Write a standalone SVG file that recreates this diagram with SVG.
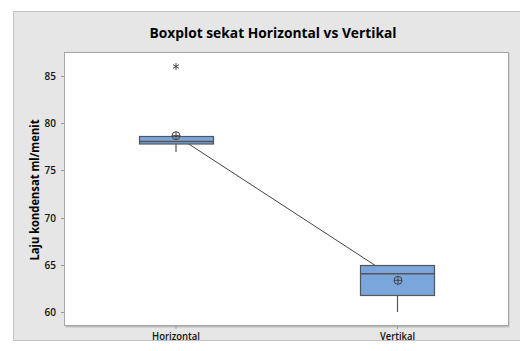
<svg xmlns="http://www.w3.org/2000/svg" width="520" height="351" viewBox="0 0 520 351">
  <style>
    .title { font-family: "Open Sans", "DejaVu Sans", sans-serif; font-weight: bold; font-size: 15px; fill: #000; }
    .axislab { font-family: "Open Sans", "DejaVu Sans", sans-serif; font-weight: bold; font-size: 12px; fill: #000; }
    .tick { font-family: "Open Sans", "DejaVu Sans", sans-serif; font-weight: 600; font-size: 10px; fill: #111; }
    .tk { stroke: #999; stroke-width: 1; }
    .box { fill: #7aa6dc; stroke: #555; stroke-width: 1.2; }
    .med { stroke: #555; stroke-width: 1.5; }
    .whisk { stroke: #555; stroke-width: 1.2; }
    .mean { fill: none; stroke: #444; stroke-width: 1; }
    .link { stroke: #444; stroke-width: 1; fill: none; }
    .outl { stroke: #444; stroke-width: 1; }
  </style>
  <defs>
    <g id="meanSym">
      <circle r="4" class="mean"/>
      <line x1="-4" y1="0" x2="4" y2="0" class="mean"/>
      <line x1="0" y1="-4" x2="0" y2="4" class="mean"/>
    </g>
    <!-- outlier marker -->
    <g id="star">
      <line class="outl" x1="0" y1="-3.5" x2="0" y2="3.5"/>
      <line class="outl" x1="-3" y1="-1.8" x2="3" y2="1.8"/>
      <line class="outl" x1="-3" y1="1.8" x2="3" y2="-1.8"/>
    </g>
  </defs>

  <rect width="520" height="351" fill="#fff"/>
  <!-- outer panel -->
  <rect x="13.5" y="11.5" width="508" height="329" fill="#e6e6e6" stroke="#c4c4c4" stroke-width="1"/>
  <!-- data region with shadow -->
  <rect x="65.5" y="53.5" width="444" height="274" fill="#bdbdbd"/>
  <rect x="64.5" y="52.5" width="444" height="273" fill="#fff" stroke="#a6a6a6" stroke-width="1"/>

  <text class="title" x="273" y="38" text-anchor="middle" textLength="247" lengthAdjust="spacingAndGlyphs">Boxplot sekat Horizontal vs Vertikal</text>

  <!-- y axis -->
  <g id="yaxis">
    <text class="axislab" transform="translate(39,190) rotate(-90)" text-anchor="middle" textLength="141" lengthAdjust="spacingAndGlyphs">Laju kondensat ml/menit</text>
    <line class="tk" x1="61" y1="76.5" x2="64" y2="76.5"/>
    <line class="tk" x1="61" y1="123.5" x2="64" y2="123.5"/>
    <line class="tk" x1="61" y1="170.5" x2="64" y2="170.5"/>
    <line class="tk" x1="61" y1="218.5" x2="64" y2="218.5"/>
    <line class="tk" x1="61" y1="265.5" x2="64" y2="265.5"/>
    <line class="tk" x1="61" y1="312.5" x2="64" y2="312.5"/>
    <text class="tick" x="56" y="80" text-anchor="end">85</text>
    <text class="tick" x="56" y="127" text-anchor="end">80</text>
    <text class="tick" x="56" y="174" text-anchor="end">75</text>
    <text class="tick" x="56" y="222" text-anchor="end">70</text>
    <text class="tick" x="56" y="269" text-anchor="end">65</text>
    <text class="tick" x="56" y="316" text-anchor="end">60</text>
  </g>

  <!-- x axis -->
  <g id="xaxis">
    <line class="tk" x1="176" y1="326" x2="176" y2="329"/>
    <line class="tk" x1="397.5" y1="326" x2="397.5" y2="329"/>
    <text class="tick" x="176" y="340" text-anchor="middle" textLength="48" lengthAdjust="spacingAndGlyphs">Horizontal</text>
    <text class="tick" x="397.5" y="340" text-anchor="middle" textLength="35" lengthAdjust="spacingAndGlyphs">Vertikal</text>
  </g>

  <!-- connector between group means -->
  <g id="connectors">
    <line class="link" x1="176" y1="135.7" x2="398" y2="280.3"/>
  </g>

  <g id="horizontal">
    <line class="whisk" x1="176" y1="144" x2="176" y2="152"/>
    <rect class="box" x="139.5" y="136.5" width="74" height="7.5"/>
    <line class="med" x1="139.5" y1="141.5" x2="213.5" y2="141.5"/>
    <use href="#star" x="176" y="66.5"/>
    <use href="#meanSym" x="176" y="135.7"/>
  </g>

  <g id="vertikal">
    <line class="whisk" x1="397.5" y1="295.5" x2="397.5" y2="312"/>
    <rect class="box" x="360.5" y="265.5" width="74" height="30"/>
    <line class="med" x1="360.5" y1="273.7" x2="434.5" y2="273.7"/>
    <use href="#meanSym" x="398" y="280.3"/>
  </g>
</svg>
